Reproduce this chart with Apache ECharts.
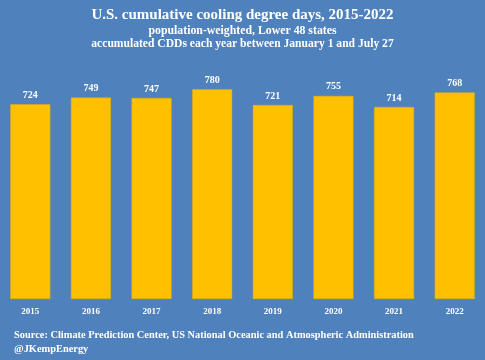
<!DOCTYPE html>
<html><head><meta charset="utf-8">
<script src="https://cdn.jsdelivr.net/npm/echarts@6/dist/echarts.min.js"></script>
<style>html,body{margin:0;padding:0;background:#4f81bd}#c{width:485px;height:360px}</style>
</head><body><div id="c"></div>
<script>
const years = ['2015','2016','2017','2018','2019','2020','2021','2022'];
const cdds = [724, 749, 747, 780, 721, 755, 714, 768];
const titleText = 'U.S. cumulative cooling degree days, 2015-2022';
const subText1 = 'population-weighted, Lower 48 states';
const subText2 = 'accumulated CDDs each year between January 1 and July 27';
const source1 = 'Source: Climate Prediction Center, US National Oceanic and Atmospheric Administration';
const source2 = '@JKempEnergy';
const serif = '"Liberation Serif", "DejaVu Serif", serif';
const chart = echarts.init(document.getElementById('c'), null, {renderer:'canvas'});
chart.setOption({
  backgroundColor: '#4f81bd',
  animation: false,
  title: [
    {text: titleText, left: 'center', top: 3, textStyle:{color:'#fff', fontFamily: serif, fontWeight:'bold', fontSize:15}},
    {text: subText1, left: 'center', top: 20, textStyle:{color:'#fff', fontFamily: serif, fontWeight:'bold', fontSize:11.8}},
    {text: subText2, left: 'center', top: 33, textStyle:{color:'#fff', fontFamily: serif, fontWeight:'bold', fontSize:11.6}},
    {text: source1, left: 9, top: 325, textStyle:{color:'#fff', fontFamily: serif, fontWeight:'bold', fontSize:10.4}},
    {text: source2, left: 9, top: 339, textStyle:{color:'#fff', fontFamily: serif, fontWeight:'bold', fontSize:10.4}}
  ],
  grid: {left: 0, right: 0, top: 30, bottom: 61},
  xAxis: {type:'category', data: years, axisLine:{show:false}, axisTick:{show:false},
    axisLabel:{color:'#fff', fontFamily: serif, fontWeight:'bold', fontSize:9, margin:8}},
  yAxis: {type:'value', min:0, max:1000, show:false, splitLine:{show:false}},
  series: [{type:'bar', data: cdds, barWidth:'66%',
    itemStyle:{color:'#ffc000', borderColor:'#e6ad00', borderWidth:0.5},
    label:{show:true, position:'top', distance:4, color:'#fff', fontFamily: serif, fontWeight:'bold', fontSize:10}}]
});
</script></body></html>
